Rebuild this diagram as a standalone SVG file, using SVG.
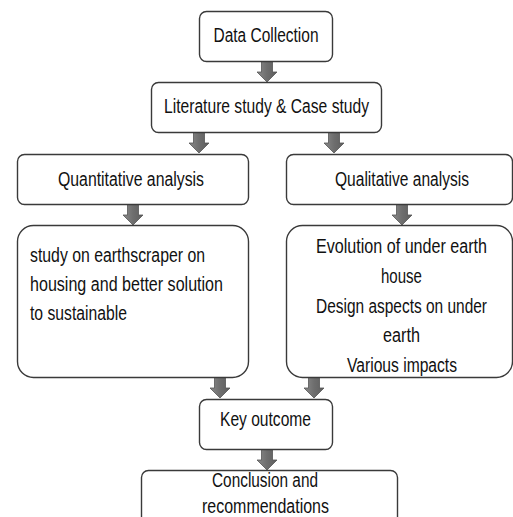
<svg xmlns="http://www.w3.org/2000/svg" width="513" height="517" viewBox="0 0 513 517">
<defs>
<linearGradient id="ag" x1="0" y1="0" x2="1" y2="0">
<stop offset="0" stop-color="#8a8a8a"/>
<stop offset="0.5" stop-color="#6e6e6e"/>
<stop offset="1" stop-color="#5e5e5e"/>
</linearGradient>
<path id="arr" d="M-5.5,0 L5.5,0 L5.5,11 L10,11 L0,21 L-10,11 L-5.5,11 Z"/>
</defs>
<style>
.box{fill:#fff;stroke:#3a3a3a;stroke-width:1.4}
.t{font-family:"Liberation Sans",Arial,sans-serif;font-size:19.5px;fill:#111}
.c{text-anchor:middle}
.a{fill:url(#ag);stroke:#555;stroke-width:0.8}
</style>
<rect width="513" height="517" fill="#fff"/>
<g id="connectors">
<use href="#arr" class="a" x="267" y="61"/>
<use href="#arr" class="a" x="199" y="132"/>
<use href="#arr" class="a" x="334" y="132"/>
<use href="#arr" class="a" x="133" y="204"/>
<use href="#arr" class="a" x="402" y="204"/>
<use href="#arr" class="a" x="220" y="377"/>
<use href="#arr" class="a" x="314" y="377"/>
<use href="#arr" class="a" x="267" y="449"/>
</g>
<g id="data-collection">
<rect class="box" x="199.5" y="11.5" width="133" height="50" rx="7"/>
<text class="t c" x="266" y="42" textLength="105" lengthAdjust="spacingAndGlyphs">Data Collection</text>
</g>
<g id="literature">
<rect class="box" x="151.5" y="82.5" width="230" height="50" rx="7"/>
<text class="t c" x="266.5" y="113" textLength="205" lengthAdjust="spacingAndGlyphs">Literature study &amp; Case study</text>
</g>
<g id="quantitative">
<rect class="box" x="17.5" y="154.5" width="231" height="50" rx="7"/>
<text class="t c" x="131" y="186" textLength="146" lengthAdjust="spacingAndGlyphs">Quantitative analysis</text>
</g>
<g id="qualitative">
<rect class="box" x="286.5" y="154.5" width="226" height="50" rx="7"/>
<text class="t c" x="402" y="186" textLength="134" lengthAdjust="spacingAndGlyphs">Qualitative analysis</text>
</g>
<g id="earthscraper">
<rect class="box" x="17.5" y="225.5" width="231" height="152" rx="16"/>
<text class="t" x="30" y="262" textLength="175" lengthAdjust="spacingAndGlyphs">study on earthscraper on</text>
<text class="t" x="30" y="291" textLength="193" lengthAdjust="spacingAndGlyphs">housing and better solution</text>
<text class="t" x="30" y="320" textLength="97" lengthAdjust="spacingAndGlyphs">to sustainable</text>
</g>
<g id="evolution">
<rect class="box" x="286.5" y="225.5" width="226" height="152" rx="16"/>
<text class="t c" x="401.5" y="253" textLength="171" lengthAdjust="spacingAndGlyphs">Evolution of under earth</text>
<text class="t c" x="401.5" y="283" textLength="41" lengthAdjust="spacingAndGlyphs">house</text>
<text class="t c" x="401.5" y="313" textLength="171" lengthAdjust="spacingAndGlyphs">Design aspects on under</text>
<text class="t c" x="401.5" y="342" textLength="37" lengthAdjust="spacingAndGlyphs">earth</text>
<text class="t c" x="402" y="372" textLength="110" lengthAdjust="spacingAndGlyphs">Various impacts</text>
</g>
<g id="key-outcome">
<rect class="box" x="199.5" y="399.5" width="133" height="50" rx="7"/>
<text class="t c" x="265.5" y="426" textLength="91" lengthAdjust="spacingAndGlyphs">Key outcome</text>
</g>
<g id="conclusion">
<rect class="box" x="141.5" y="470.5" width="256" height="60" rx="7"/>
<text class="t c" x="265" y="487" textLength="106" lengthAdjust="spacingAndGlyphs">Conclusion and</text>
<text class="t c" x="265.5" y="513" textLength="127" lengthAdjust="spacingAndGlyphs">recommendations</text>
</g>
</svg>
